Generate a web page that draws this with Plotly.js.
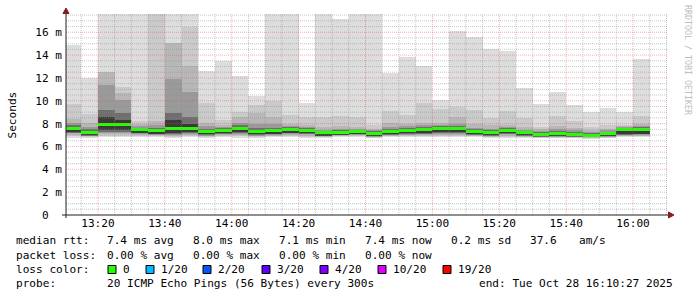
<!DOCTYPE html>
<html>
<head>
<meta charset="utf-8">
<script src="https://cdn.plot.ly/plotly-3.0.1.min.js"></script>
<style>
html,body{margin:0;padding:0;background:#ffffff;}
#chart{width:697px;height:297px;}
</style>
</head>
<body>
<div id="chart"></div>
<script>
// ---------------- data ----------------
const day = '2025-10-28 ';
const rangeStart = '13:10:27';
const rangeEnd = '16:10:27';

// start of each 5-minute step (300 s)
const slotStart = ['13:10','13:15','13:20','13:25','13:30','13:35','13:40','13:45','13:50','13:55',
                   '14:00','14:05','14:10','14:15','14:20','14:25','14:30','14:35','14:40','14:45',
                   '14:50','14:55','15:00','15:05','15:10','15:15','15:20','15:25','15:30','15:35',
                   '15:40','15:45','15:50','15:55','16:00'];

// smoke layers (ms): upper edges, outermost first (values above 17.6 run off the chart)
const pingMax = [14.9,12.0,19,19,19,19,19,19,12.6,13.45,12.2,10.4,19,19,9.85,19,17.2,19,19,12.4,13.8,13.05,10.05,16.1,15.55,14.55,14.4,11.1,9.7,10.75,9.6,9.0,9.35,9.0,13.65];
const top2 = [9.7,8.85,12.55,11.2,8.25,19,15.1,16.5,9.8,8.3,9.0,9.6,10.0,8.75,8.55,8.55,8.7,8.55,7.85,9.13,8.76,9.8,9.28,9.48,9.19,8.46,9.1,8.46,7.73,8.67,8.23,7.73,7.88,7.88,8.67];
const top3 = [8.45,8.05,12.5,10.7,7.95,8.25,15.05,13.05,8.05,7.85,8.55,8.9,8.55,7.95,7.85,7.7,7.8,7.7,7.55,8.05,7.95,8.05,8.05,8.55,7.95,7.85,7.9,7.7,7.55,7.75,7.6,7.45,7.55,7.75,8.0];
const top4 = [8.05,7.7,11.4,10.1,7.75,7.9,11.9,10.8,7.75,7.7,8.05,7.95,7.95,7.8,7.7,7.45,7.55,7.55,7.45,7.7,7.75,7.85,7.9,8.0,7.65,7.55,7.7,7.45,7.35,7.5,7.4,7.3,7.4,7.7,7.8];
const top5 = [7.85,7.5,9.2,8.9,7.65,7.65,8.9,8.6,7.55,7.6,7.85,7.6,7.65,7.7,7.6,7.38,7.45,7.45,7.35,7.5,7.6,7.7,7.75,7.8,7.5,7.42,7.6,7.35,7.25,7.35,7.25,7.2,7.3,7.65,7.68];
const top6 = [7.65,7.35,8.55,8.3,7.58,7.48,8.3,8.0,7.43,7.52,7.7,7.43,7.5,7.6,7.52,7.3,7.35,7.43,7.25,7.37,7.5,7.55,7.65,7.65,7.37,7.32,7.52,7.3,7.15,7.2,7.15,7.1,7.22,7.6,7.58];
// median rtt (ms)
const median = [7.55,7.25,7.9,7.9,7.48,7.38,7.55,7.55,7.33,7.42,7.6,7.33,7.4,7.5,7.42,7.2,7.25,7.33,7.15,7.27,7.4,7.45,7.55,7.55,7.27,7.22,7.42,7.2,7.05,7.1,7.05,7.0,7.12,7.5,7.48];
// lower edges, innermost first
const bot6 = [7.25,6.98,7.4,7.45,7.2,7.12,7.2,7.25,7.05,7.15,7.3,7.05,7.12,7.22,7.15,6.95,7.02,7.1,6.92,7.05,7.15,7.2,7.25,7.25,7.05,6.98,7.18,6.98,6.9,6.92,6.9,6.88,6.92,7.05,7.12];
const bot5 = [7.22,6.95,7.3,7.3,7.15,7.08,7.1,7.15,7.0,7.1,7.2,7.0,7.08,7.15,7.1,6.92,7.0,7.05,6.88,7.0,7.08,7.12,7.18,7.15,7.02,6.94,7.12,6.94,6.87,6.88,6.87,6.85,6.88,7.0,7.05];
const bot4 = [7.2,6.92,7.15,7.15,7.1,7.03,7.03,7.08,6.95,7.05,7.1,6.95,7.03,7.1,7.05,6.9,6.97,7.0,6.85,6.97,7.03,7.05,7.1,7.05,7.0,6.9,7.05,6.9,6.84,6.85,6.84,6.82,6.85,6.97,7.0];
const bot3 = [7.0,6.88,7.05,7.05,7.0,6.98,6.95,7.0,6.9,7.0,7.0,6.9,6.95,7.0,6.95,6.85,6.93,6.97,6.8,6.93,6.98,7.0,7.0,7.0,6.95,6.85,6.95,6.85,6.8,6.8,6.8,6.78,6.8,6.93,6.95];
const bot2 = [6.88,6.82,6.95,6.95,6.92,6.9,6.85,6.9,6.85,6.95,6.9,6.8,6.88,6.95,6.85,6.8,6.88,6.9,6.75,6.88,6.9,6.9,6.9,6.9,6.9,6.8,6.85,6.8,6.75,6.75,6.75,6.72,6.75,6.88,6.88];
const pingMin = [6.75,6.72,6.85,6.85,6.82,6.8,6.75,6.8,6.75,6.85,6.75,6.7,6.8,6.85,6.75,6.7,6.82,6.85,6.7,6.82,6.8,6.8,6.8,6.8,6.8,6.75,6.72,6.75,6.7,6.7,6.7,6.67,6.7,6.82,6.8];

const xTickLabels = ['13:20','13:40','14:00','14:20','14:40','15:00','15:20','15:40','16:00'];
const yTickValues = [0,2,4,6,8,10,12,14,16];
const yTickLabels = ['0\u00a0\u00a0','2 m','4 m','6 m','8 m','10 m','12 m','14 m','16 m'];

const lossLabels = ['0','1/20','2/20','3/20','4/20','10/20','19/20'];
const lossColors = ['#26ff00','#00b8ff','#0059ff','#5e00ff','#7e00ff','#dd00ff','#ff0000'];

const statRows = [
  ['median rtt:','7.4 ms avg','8.0 ms max','7.1 ms min','7.4 ms now','0.2 ms sd','37.6','am/s'],
  ['packet loss:','0.00 % avg','0.00 % max','0.00 % min','0.00 % now'],
  ['loss color:'],
  ['probe:','20 ICMP Echo Pings (56 Bytes) every 300s','end: Tue Oct 28 16:10:27 2025']
];

// ---------------- styling / layout helpers ----------------
const W = 697, H = 297, L = 66, R = 668, T = 14, B = 215;
const px = x => (x - L) / (R - L);
const py = y => (B - y) / (B - T);
const mono = 'DejaVu Sans Mono, monospace';
const fs = 11.1;
const gridCol = 'rgba(143,143,143,0.5)';
const mgridCol = 'rgba(222,79,79,0.45)';
const arrowCol = '#801f1f';
const axisCol = '#1f1f1f';

const xs = slotStart.map(t => day + t);
const tops = [pingMax, top2, top3, top4, top5, top6];
const bots = [pingMin, bot2, bot3, bot4, bot5, bot6];
const smokeColors = ['#dddddd','#cacaca','#b7b7b7','#9a9a9a','#6e6e6e','#3a3a3a'];

const traces = tops.map((tp, k) => ({
  type: 'bar', x: xs, base: bots[k], y: tp.map((v, i) => v - bots[k][i]),
  width: 300000, offset: 0,
  marker: {color: smokeColors[k], line: {width: 0}},
  hoverinfo: 'skip', showlegend: false
}));
const medHalf = 0.13;
traces.push({
  type: 'bar', x: xs, base: median.map(v => v - medHalf), y: median.map(() => 2 * medHalf),
  width: 300000, offset: 0,
  marker: {color: lossColors[0], line: {width: 0}},
  hoverinfo: 'skip', showlegend: false
});

// grid (drawn above the smoke, as rrdtool does)
const shapes = [];
for (let k = 1; k <= 35; k++) {
  const v = k * 0.5;
  const major = (k % 4 === 0);
  shapes.push({type: 'line', layer: 'above', xref: 'paper', yref: 'y', x0: 0, x1: 1, y0: v, y1: v,
    line: {color: major ? mgridCol : gridCol, width: 1, dash: '1px,1px'}});
}
for (let m = 13 * 60 + 15; m <= 16 * 60 + 10; m += 5) {
  const hh = String(Math.floor(m / 60)).padStart(2, '0');
  const mm = String(m % 60).padStart(2, '0');
  const major = (m % 20 === 0);
  shapes.push({type: 'line', layer: 'above', xref: 'x', yref: 'paper', x0: day + hh + ':' + mm, x1: day + hh + ':' + mm, y0: 0, y1: 1,
    line: {color: major ? mgridCol : gridCol, width: 1, dash: '1px,1px'}});
}
// axes and arrows
shapes.push({type: 'line', layer: 'above', xref: 'paper', yref: 'paper', x0: px(62), x1: px(670), y0: 0, y1: 0, line: {color: axisCol, width: 1}});
shapes.push({type: 'line', layer: 'above', xref: 'paper', yref: 'paper', x0: 0, x1: 0, y0: py(218), y1: py(12), line: {color: axisCol, width: 1}});
shapes.push({type: 'path', layer: 'above', xref: 'paper', yref: 'paper',
  path: `M ${px(66)} ${py(8)} L ${px(63)} ${py(13.5)} L ${px(69)} ${py(13.5)} Z`,
  fillcolor: arrowCol, line: {color: arrowCol, width: 1}});
shapes.push({type: 'path', layer: 'above', xref: 'paper', yref: 'paper',
  path: `M ${px(674)} ${py(215)} L ${px(668.5)} ${py(212)} L ${px(668.5)} ${py(218)} Z`,
  fillcolor: arrowCol, line: {color: arrowCol, width: 1}});

// legend text
const annotations = [];
const rowY = [240.7, 255.7, 269.3, 283.3];
const rowX = [
  [16, 107.3, 193.3, 279.3, 365.3, 451.3, 530.3, 579.3],
  [16, 107.3, 193.3, 279.3, 365.3],
  [16],
  [16, 107.3, 478.7]
];
statRows.forEach((row, r) => row.forEach((txt, c) => {
  annotations.push({text: txt, xref: 'paper', yref: 'paper', x: px(rowX[r][c]), y: py(rowY[r]),
    xanchor: 'left', yanchor: 'middle', showarrow: false, borderpad: 0, borderwidth: 0,
    font: {family: mono, size: fs, color: '#000'}});
}));
const boxX = [108, 146, 203, 262, 320, 378, 443];
lossLabels.forEach((lab, i) => {
  shapes.push({type: 'rect', layer: 'above', xref: 'paper', yref: 'paper',
    x0: px(boxX[i]), x1: px(boxX[i] + 8), y0: py(273.5), y1: py(265.5),
    fillcolor: lossColors[i], line: {color: '#000', width: 1}});
  annotations.push({text: lab, xref: 'paper', yref: 'paper', x: px(boxX[i] + 15), y: py(rowY[2]),
    xanchor: 'left', yanchor: 'middle', showarrow: false, borderpad: 0, borderwidth: 0,
    font: {family: mono, size: fs, color: '#000'}});
});
annotations.push({text: 'Seconds', textangle: -90, xref: 'paper', yref: 'paper', x: px(11.5), y: py(115),
  xanchor: 'center', yanchor: 'middle', showarrow: false, borderpad: 0, borderwidth: 0,
  font: {family: mono, size: fs, color: '#000'}});
annotations.push({text: 'RRDTOOL / TOBI OETIKER', textangle: 90, xref: 'paper', yref: 'paper', x: px(688), y: py(60),
  xanchor: 'center', yanchor: 'middle', showarrow: false, borderpad: 0, borderwidth: 0,
  font: {family: mono, size: 8.3, color: '#bdbdbd'}});

const layout = {
  width: W, height: H,
  margin: {l: L, r: W - R, t: T, b: H - B, pad: 0},
  paper_bgcolor: '#ffffff', plot_bgcolor: '#ffffff',
  barmode: 'overlay', bargap: 0, showlegend: false,
  xaxis: {type: 'date', range: [day + rangeStart, day + rangeEnd], showgrid: false, zeroline: false, showline: false,
    tickmode: 'array', tickvals: xTickLabels.map(t => day + t), ticktext: xTickLabels, ticks: '',
    tickfont: {family: mono, size: fs, color: '#000'}, ticklabelstandoff: 0, fixedrange: true},
  yaxis: {range: [0, 17.6], showgrid: false, zeroline: false, showline: false,
    tickmode: 'array', tickvals: yTickValues, ticktext: yTickLabels, ticks: '',
    tickfont: {family: mono, size: fs, color: '#000'}, ticklabelstandoff: 3, fixedrange: true},
  shapes: shapes, annotations: annotations
};

Plotly.newPlot('chart', traces, layout, {staticPlot: true, displayModeBar: false});
</script>
</body>
</html>
